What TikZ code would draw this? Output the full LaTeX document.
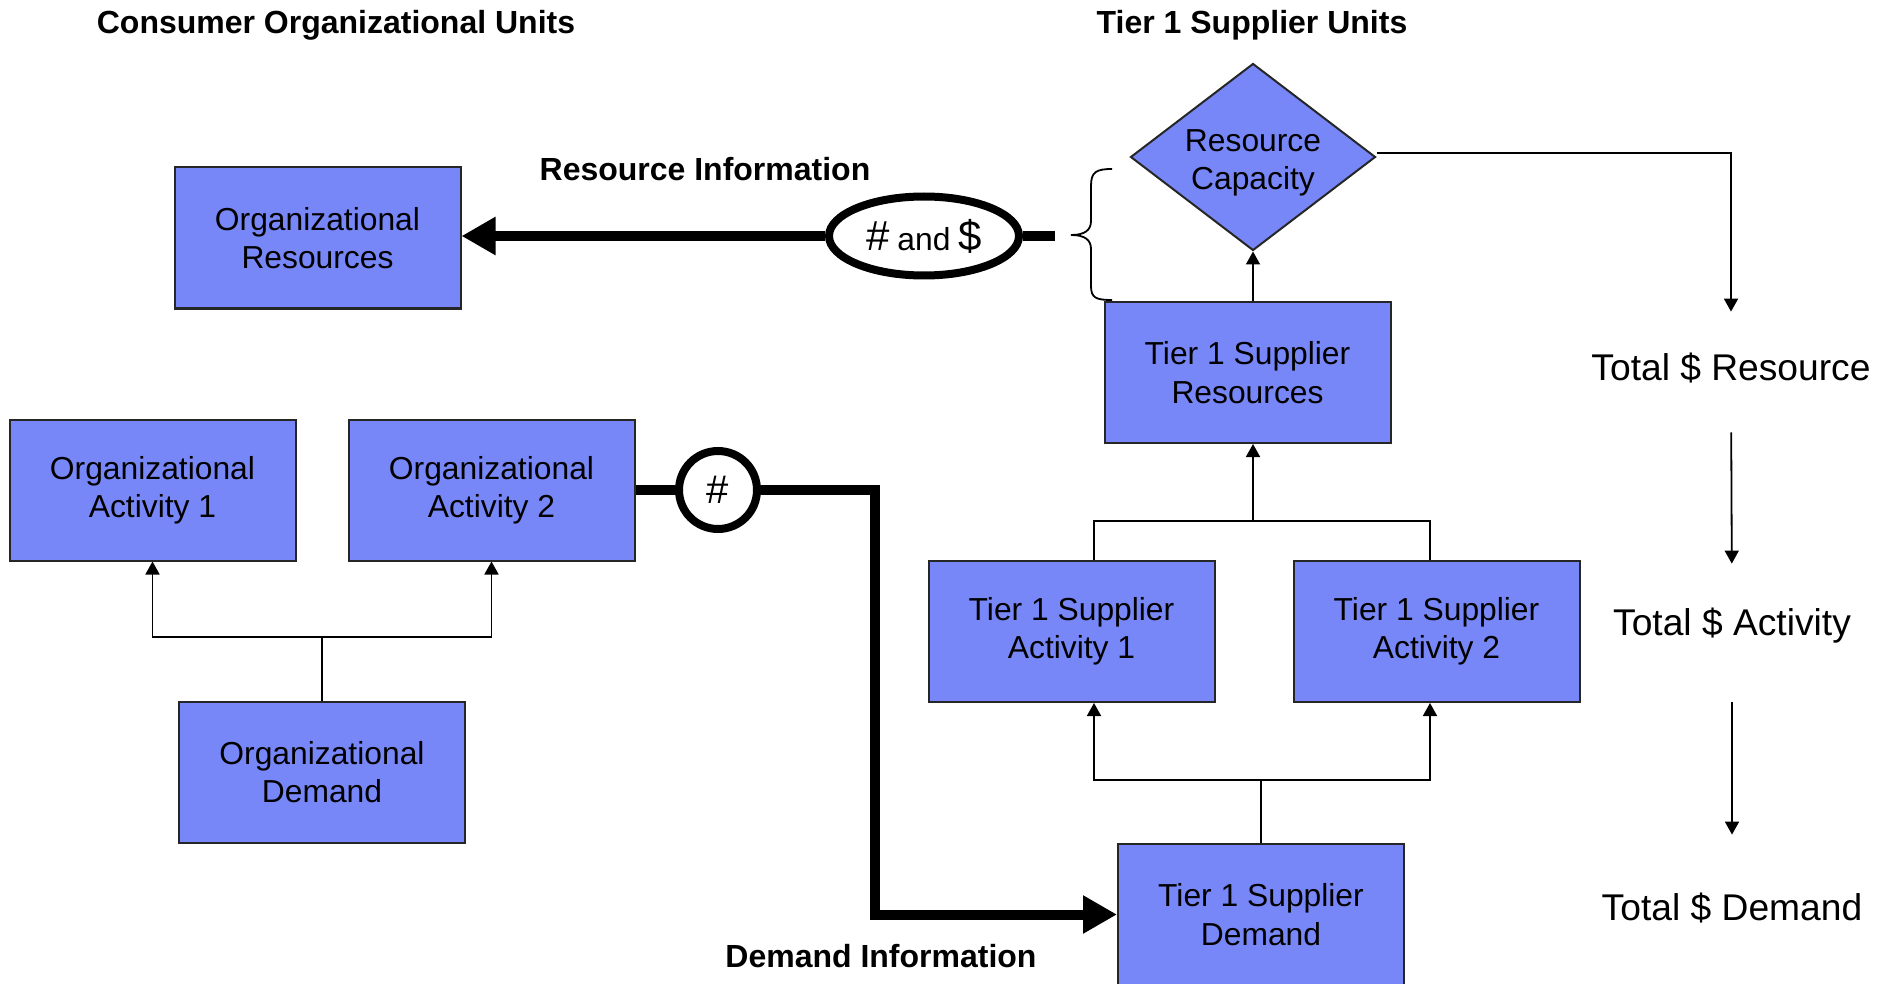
\documentclass[tikz,border=0pt]{standalone}
\usepackage{fontspec}
\setmainfont{Liberation Sans}
\usetikzlibrary{arrows.meta,shapes.geometric}
\definecolor{boxblue}{RGB}{120,135,248}

\begin{document}
\begin{tikzpicture}[x=0.5pt,y=-0.5pt,
  unit/.style={draw=black!85, line width=1pt, fill=boxblue,
    minimum width=143pt, minimum height=70.5pt, inner sep=0pt,
    align=center, font=\fontsize{15.9pt}{19.2pt}\selectfont},
  gate/.style={diamond, aspect=1.31, draw=black!85, line width=1pt, fill=boxblue,
    minimum width=122.5pt, minimum height=93.5pt, inner sep=0pt},
  gatetext/.style={align=center, inner sep=0pt,
    font=\fontsize{15.9pt}{19.2pt}\selectfont},
  heading/.style={font=\bfseries\fontsize{16pt}{19pt}\selectfont, inner sep=0pt},
  total/.style={font=\fontsize{18.6pt}{22pt}\selectfont, inner sep=0pt,
    text height=14pt, text depth=4pt},
  link/.style={line width=0.9pt},
  arr/.style={line width=0.9pt, -{Triangle[length=6.5pt,width=7pt]}},
  flow/.style={line width=5pt},
  flowarr/.style={line width=5pt, -{Triangle[length=17pt,width=18pt]}},
  token/.style={draw, line width=4pt, fill=white, inner sep=0pt}
]
\useasboundingbox (0,0) rectangle (1895,984);

% headings
\node[heading] (hcons) at (336,25) {Consumer Organizational Units};
\node[heading] (hsup) at (1252,25) {Tier 1 Supplier Units};
\node[heading] (hres) at (705,169) {Resource Information};
\node[heading] (hdem) at (881,956) {Demand Information};

% consumer side
\node[unit] (orgres) at (317.5,238) {Organizational\\Resources};
\node[unit] (act1) at (152.5,490) {Organizational\\Activity 1};
\node[unit] (act2) at (491.5,490) {Organizational\\Activity 2};
\node[unit] (orgdem) at (322,772) {Organizational\\Demand};

% supplier side
\node[gate] (dia) at (1253,157) {};
\node[gatetext] (diatext) at (1253,163) {Resource\\Capacity};
\node[unit] (t1res) at (1247.5,372.5) {Tier 1 Supplier\\Resources};
\node[unit] (t1act1) at (1071.5,631.5) {Tier 1 Supplier\\Activity 1};
\node[unit] (t1act2) at (1436.5,631.5) {Tier 1 Supplier\\Activity 2};
\node[unit] (t1dem) at (1261,914.5) {Tier 1 Supplier\\Demand};

% totals column
\node[total] (totres) at (1731,370) {Total \$ Resource};
\node[total] (totact) at (1732,625) {Total \$ Activity};
\node[total] (totdem) at (1732,910) {Total \$ Demand};

% information tokens
\node[token, ellipse, minimum width=95pt, minimum height=39.5pt] (money) at (924,236)
  {{\fontsize{21pt}{21pt}\selectfont\#}\hspace{4pt}{\fontsize{15.9pt}{18pt}\selectfont and}\hspace{4pt}{\fontsize{21pt}{21pt}\selectfont\$}};
\node[token, circle, minimum size=39pt, font=\fontsize{20pt}{20pt}\selectfont] (hash) at (718,490) {\#};

% helper coordinates
\coordinate (resend) at (1055,236);
\coordinate (bendx) at (875,0);
\coordinate (orgj) at (322,637);
\coordinate (uj) at (1253,521);
\coordinate (lj) at (1261,780);
\coordinate (la) at (1094,0);
\coordinate (ra) at (1430,0);

% resource information flow
\draw[flow] (resend) -- (money.east);
\draw[flowarr] (money.west) -- (money.west -| orgres.east);

% brace grouping capacity and resources
\draw[line width=0.9pt] (1112,169) .. controls (1096,169) and (1091,172) .. (1091,186)
  -- (1091,221) .. controls (1091,230) and (1085,235) .. (1071,235)
  .. controls (1085,235) and (1091,240) .. (1091,249)
  -- (1091,286) .. controls (1091,298) and (1096,300) .. (1112,300);

% demand information flow
\draw[flow] (act2.east) -- (hash.west);
\draw[flowarr] (hash.east) -- (hash.east -| bendx) |- (t1dem.west);

% consumer demand to activities
\draw[link] (orgdem.north) -- (orgdem.north |- orgj);
\draw[arr] (orgdem.north |- orgj) -| (act1.south);
\draw[arr] (orgdem.north |- orgj) -| (act2.south);

% supplier demand to activities
\draw[link] (t1dem.north) -- (t1dem.north |- lj);
\draw[arr] (t1dem.north |- lj) -| (la |- t1act1.south);
\draw[arr] (t1dem.north |- lj) -| (ra |- t1act2.south);

% supplier activities to resources to capacity
\draw[link] (la |- t1act1.north) -- (la |- uj) -- (ra |- uj) -- (ra |- t1act2.north);
\draw[arr] (uj) -- (uj |- t1res.south);
\draw[arr] (dia.south |- t1res.north) -- (dia.south);

% totals chain
\draw[arr, shorten >=20pt] ([yshift=2pt]dia.east) -| (totres.north);
\draw[arr, shorten <=22pt, shorten >=21.5pt] (totres.south) -- (totact.north);
\draw[arr, shorten <=29.5pt, shorten >=28.5pt] (totact.south) -- (totdem.north);
\end{tikzpicture}
\end{document}
